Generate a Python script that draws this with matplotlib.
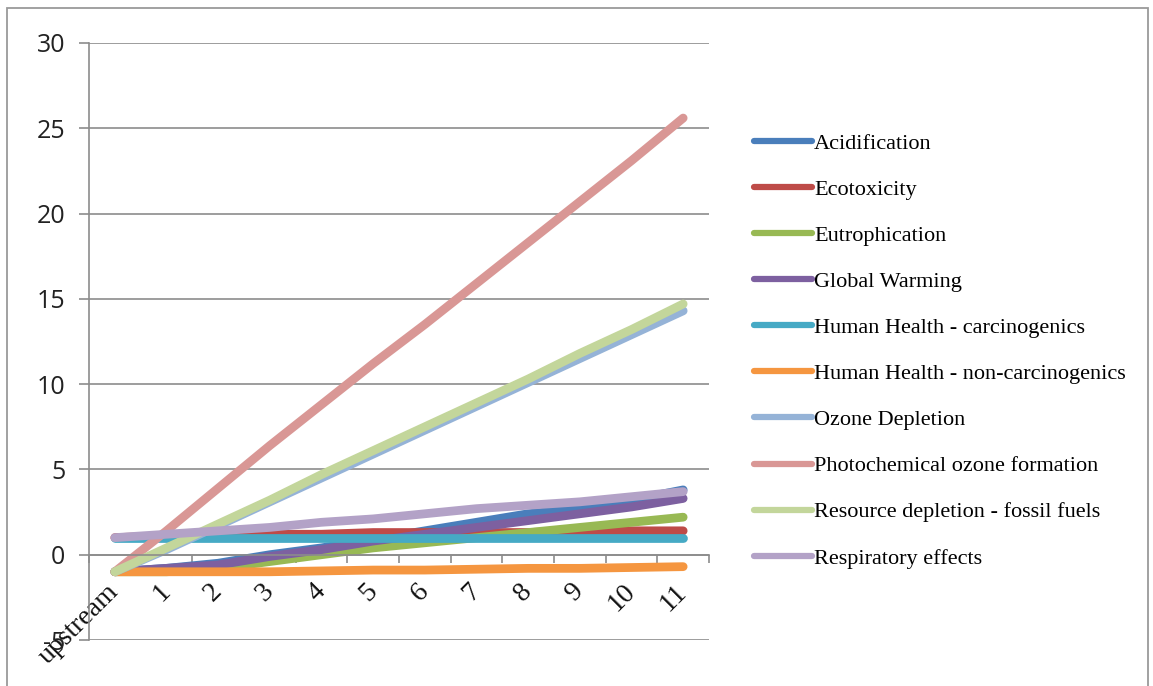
import matplotlib
matplotlib.use("Agg")
import matplotlib.pyplot as plt
from matplotlib.patches import Rectangle

categories = ["upstream", "1", "2", "3", "4", "5", "6", "7", "8", "9", "10", "11"]

acidification = [-1.0, -0.8, -0.5, 0.0, 0.4, 0.9, 1.4, 1.9, 2.4, 2.7, 3.2, 3.8]
ecotoxicity = [1.0, 1.1, 1.2, 1.2, 1.2, 1.3, 1.3, 1.3, 1.3, 1.4, 1.4, 1.4]
eutrophication = [-1.0, -1.0, -0.8, -0.4, 0.0, 0.4, 0.7, 1.0, 1.3, 1.6, 1.9, 2.2]
global_warming = [-1.0, -0.8, -0.6, -0.1, 0.3, 0.8, 1.2, 1.6, 2.0, 2.4, 2.8, 3.3]
hh_carcinogenics = [1.0, 1.0, 1.0, 1.0, 1.0, 1.0, 1.0, 1.0, 1.0, 1.0, 1.0, 1.0]
hh_non_carcinogenics = [-1.0, -1.0, -1.0, -1.0, -0.95, -0.9, -0.9, -0.85, -0.8, -0.8, -0.75, -0.7]
ozone_depletion = [-1.0, 0.3, 1.7, 3.1, 4.5, 5.9, 7.3, 8.7, 10.1, 11.5, 12.9, 14.3]
photochemical = [-1.0, 1.4, 3.9, 6.4, 8.8, 11.2, 13.5, 15.9, 18.3, 20.7, 23.1, 25.6]
resource_depletion = [-1.0, 0.4, 1.8, 3.2, 4.7, 6.1, 7.5, 8.9, 10.3, 11.8, 13.2, 14.7]
respiratory = [1.0, 1.2, 1.4, 1.6, 1.9, 2.1, 2.4, 2.7, 2.9, 3.1, 3.4, 3.7]

series_names = ["Acidification", "Ecotoxicity", "Eutrophication", "Global Warming",
                "Human Health - carcinogenics", "Human Health - non-carcinogenics",
                "Ozone Depletion", "Photochemical ozone formation",
                "Resource depletion - fossil fuels", "Respiratory effects"]
series_values = [acidification, ecotoxicity, eutrophication, global_warming,
                 hh_carcinogenics, hh_non_carcinogenics, ozone_depletion,
                 photochemical, resource_depletion, respiratory]
colors = ["#4A7EBB", "#BE4B48", "#98B954", "#7D60A0", "#46AAC5",
          "#F59640", "#95B3D7", "#D99795", "#C3D69B", "#B3A2C7"]

W, H = 1153, 686
fig = plt.figure(figsize=(W / 100, H / 100), dpi=100)
ax = fig.add_axes([89 / W, 1 - 640 / H, (709 - 89) / W, (640 - 43) / H])

x = list(range(len(categories)))
lines = []
for name, vals, c in zip(series_names, series_values, colors):
    ln, = ax.plot(x, vals, color=c, lw=6.3, solid_capstyle="round",
                  solid_joinstyle="round", label=name)
    lines.append(ln)

gray = "#8c8c8c"
ax.set_xlim(-0.5, 11.5)
ax.set_ylim(-5, 30)
ax.set_yticks(range(-5, 31, 5))
ax.set_yticklabels([str(v).replace("-", "-") for v in range(-5, 31, 5)])
ax.yaxis.grid(True, color=gray, lw=1.2)
ax.set_axisbelow(True)
for s in ["top", "right"]:
    ax.spines[s].set_visible(False)
ax.spines["left"].set_color(gray)
ax.spines["left"].set_linewidth(1.2)
ax.spines["bottom"].set_position(("data", 0))
ax.spines["bottom"].set_color(gray)
ax.spines["bottom"].set_linewidth(1.2)
ax.tick_params(axis="y", length=7, width=1.2, color=gray, pad=10,
               labelsize=18, labelcolor="#222222")
for lab in ax.get_yticklabels():
    lab.set_fontfamily("Open Sans")

ax.set_xticks(x)
ax.set_xticklabels(categories, rotation=45, ha="right", va="center",
                   rotation_mode="anchor", fontsize=20,
                   fontfamily="Liberation Serif", color="#111111")
ax.tick_params(axis="x", which="major", length=0, pad=24)
ax.set_xticks([i - 0.5 for i in range(len(categories) + 1)], minor=True)
ax.tick_params(axis="x", which="minor", length=6, width=1.2, color=gray,
               direction="out")

leg = ax.legend(handles=lines, loc="upper left",
                bbox_to_anchor=(754 / W, 1 - 133 / H),
                bbox_transform=fig.transFigure, frameon=False,
                prop={"family": "Liberation Serif", "size": 16},
                handlelength=2.6, handletextpad=0.1, labelspacing=1.15,
                borderpad=0, borderaxespad=0)
for h in leg.get_lines():
    h.set_linewidth(4.5)
    h.set_solid_capstyle("round")

border = Rectangle((7 / W, -0.05), (1148 - 7) / W, 1 - 8 / H + 0.05,
                   transform=fig.transFigure, fill=False, edgecolor="#9a9a9a",
                   lw=1.3)
fig.patches.append(border)

fig.savefig("out.png", dpi=100)
